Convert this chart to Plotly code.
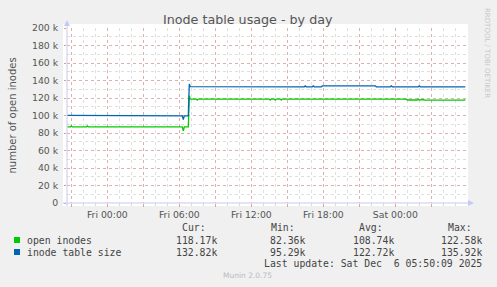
import plotly.graph_objects as go

# ---------------- data ----------------
blue_times = [
    "2025-12-04 20:40", "2025-12-05 00:25", "2025-12-05 00:30", "2025-12-05 06:15",
    "2025-12-05 06:20", "2025-12-05 06:25", "2025-12-05 06:45", "2025-12-05 06:50",
    "2025-12-05 06:55", "2025-12-05 16:25", "2025-12-05 16:30", "2025-12-05 16:35",
    "2025-12-05 17:05", "2025-12-05 17:10", "2025-12-05 17:15", "2025-12-05 17:50",
    "2025-12-05 17:55", "2025-12-05 22:20", "2025-12-05 22:25", "2025-12-05 23:35",
    "2025-12-05 23:40", "2025-12-05 23:45", "2025-12-06 01:55", "2025-12-06 02:00",
    "2025-12-06 02:05", "2025-12-06 05:50",
]
blue_values = [
    100200, 100200, 99500, 99500,
    95290, 99500, 99500, 135920,
    133000, 132800, 133900, 132800,
    132800, 133900, 132800, 132800,
    133900, 133900, 132800, 132800,
    133900, 132800, 132800, 133900,
    132800, 132820,
]

green_times = [
    "2025-12-04 20:40", "2025-12-04 20:55", "2025-12-04 21:00", "2025-12-04 21:05",
    "2025-12-04 22:15", "2025-12-04 22:20", "2025-12-04 22:25", "2025-12-05 06:15",
    "2025-12-05 06:20", "2025-12-05 06:25", "2025-12-05 06:45", "2025-12-05 06:50",
    "2025-12-05 06:55", "2025-12-05 07:25", "2025-12-05 07:30", "2025-12-05 07:35",
    "2025-12-05 13:30", "2025-12-05 13:35", "2025-12-05 13:40", "2025-12-05 13:55",
    "2025-12-05 14:00", "2025-12-05 14:05", "2025-12-05 14:25", "2025-12-05 14:30",
    "2025-12-05 14:35", "2025-12-06 00:55", "2025-12-06 01:00", "2025-12-06 01:50",
    "2025-12-06 01:55", "2025-12-06 02:00", "2025-12-06 02:20", "2025-12-06 02:25",
    "2025-12-06 05:45", "2025-12-06 05:50",
]
green_values = [
    86900, 86900, 88000, 86900,
    86900, 88000, 86900, 86900,
    82360, 86900, 86900, 122580,
    118700, 118700, 117600, 118700,
    118700, 117600, 118700, 118700,
    117600, 118700, 118700, 117600,
    118700, 118700, 117700, 117700,
    118700, 117700, 118100, 117500,
    117500, 118170,
]

series_names = ["open inodes", "inode table size"]
series_colors = ["#00CC00", "#0066B3"]
stat_cur = ["118.17k", "132.82k"]
stat_min = ["82.36k", "95.29k"]
stat_avg = ["108.74k", "122.72k"]
stat_max = ["122.58k", "135.92k"]

x_tickvals = [
    "2025-12-04 21:00", "2025-12-05 00:00", "2025-12-05 03:00", "2025-12-05 06:00",
    "2025-12-05 09:00", "2025-12-05 12:00", "2025-12-05 15:00", "2025-12-05 18:00",
    "2025-12-05 21:00", "2025-12-06 00:00", "2025-12-06 03:00",
]
x_ticktext = ["", "Fri 00:00", "", "Fri 06:00", "", "Fri 12:00", "", "Fri 18:00",
              "", "Sat 00:00", ""]
y_tickvals = [0, 20000, 40000, 60000, 80000, 100000, 120000, 140000, 160000, 180000, 200000]
y_ticktext = ["0", "20 k", "40 k", "60 k", "80 k", "100 k", "120 k", "140 k",
              "160 k", "180 k", "200 k"]

# ---------------- layout geometry ----------------
W, H = 497, 287
L, R, T, B = 67, 467, 28, 203


def px(x):
    return (x - L) / (R - L)


def py(y):
    return (B - y) / (B - T)


fig = go.Figure()
fig.add_trace(go.Scatter(x=green_times, y=green_values, mode="lines",
                         line=dict(color=series_colors[0], width=1.3),
                         name=series_names[0], hoverinfo="skip"))
fig.add_trace(go.Scatter(x=blue_times, y=blue_values, mode="lines",
                         line=dict(color=series_colors[1], width=1.3),
                         name=series_names[1], hoverinfo="skip"))

minor_grid = "rgba(150,150,150,0.3)"
major_grid = "rgba(220,110,110,0.42)"
tick_font = dict(family="DejaVu Sans", size=9.3, color="#555555")

fig.update_xaxes(
    type="date",
    range=["2025-12-04 20:38:30", "2025-12-06 05:58:30"],
    tickmode="array", tickvals=x_tickvals, ticktext=x_ticktext,
    showgrid=True, gridcolor=major_grid, griddash="dot", gridwidth=1,
    ticks="outside", ticklen=3, tickcolor="#E0A0A0",
    tickfont=tick_font, showline=False, zeroline=False,
    minor=dict(dtick=3600000, tick0="2025-12-04 00:00", showgrid=True,
               gridcolor=minor_grid, griddash="dot", gridwidth=1,
               ticks="outside", ticklen=2, tickcolor="#D8D8D8"),
    fixedrange=True,
)
fig.update_yaxes(
    range=[0, 200000],
    tickmode="array", tickvals=y_tickvals, ticktext=y_ticktext,
    showgrid=True, gridcolor=major_grid, griddash="dot", gridwidth=1,
    ticks="outside", ticklen=2, tickcolor="#E0A0A0",
    tickfont=tick_font, ticklabelstandoff=4, showline=False, zeroline=False,
    minor=dict(dtick=10000, showgrid=True, gridcolor=minor_grid,
               griddash="dot", gridwidth=1),
    fixedrange=True,
)

axis_col = "#C4CAF4"
shapes = [
    # white canvas slightly larger than plot area
    dict(type="rect", xref="paper", yref="paper", x0=px(63), x1=px(468),
         y0=py(206), y1=py(24), fillcolor="white", line=dict(width=0), layer="below"),
    # y axis line and arrow
    dict(type="line", xref="paper", yref="paper", x0=px(67), x1=px(67),
         y0=py(206), y1=py(24), line=dict(color=axis_col, width=1), layer="above"),
    dict(type="path", xref="paper", yref="paper",
         path=f"M {px(64)} {py(26)} L {px(70)} {py(26)} L {px(67)} {py(20)} Z",
         fillcolor=axis_col, line=dict(width=0), layer="above"),
    # x axis line and arrow
    dict(type="line", xref="paper", yref="paper", x0=px(63), x1=px(469),
         y0=py(203), y1=py(203), line=dict(color=axis_col, width=1), layer="above"),
    dict(type="path", xref="paper", yref="paper",
         path=f"M {px(468)} {py(200)} L {px(468)} {py(206)} L {px(474)} {py(203)} Z",
         fillcolor=axis_col, line=dict(width=0), layer="above"),
]
# legend squares
for i, col in enumerate(series_colors):
    yc = 240 + 12 * i
    shapes.append(dict(type="rect", xref="paper", yref="paper",
                       x0=px(14), x1=px(20), y0=py(yc + 3), y1=py(yc - 3),
                       fillcolor=col, line=dict(width=0)))

mono = dict(family="DejaVu Sans Mono", size=9.8, color="#444444")
ann = []


def add_text(text, x, y, font, xanchor="left", yanchor="middle", angle=0):
    ann.append(dict(text=text, x=px(x), y=py(y), xref="paper", yref="paper",
                    showarrow=False, xanchor=xanchor, yanchor=yanchor,
                    font=font, textangle=angle, borderpad=0))


add_text("Inode table usage - by day", 248, 19,
         dict(family="DejaVu Sans", size=12.7, color="#555555"), xanchor="center")
add_text("number of open inodes", 12, 115.5,
         dict(family="DejaVu Sans", size=10, color="#555555"), xanchor="center", angle=-90)
add_text("RRDTOOL / TOBI OETIKER", 487, 53,
         dict(family="DejaVu Sans", size=7, color="#C8C8C8"), xanchor="center", angle=90)

add_text("Cur:", 181, 227.5, mono)
add_text("Min:", 270, 227.5, mono)
add_text("Avg:", 358, 227.5, mono)
add_text("Max:", 446.7, 227.5, mono)
for i in range(2):
    yc = 240 + 12 * i
    add_text(series_names[i], 26, yc, mono)
    add_text(stat_cur[i], 217.5, yc, mono, xanchor="right")
    add_text(stat_min[i], 306, yc, mono, xanchor="right")
    add_text(stat_avg[i], 394.5, yc, mono, xanchor="right")
    add_text(stat_max[i], 483, yc, mono, xanchor="right")
add_text("Last update: Sat Dec  6 05:50:09 2025", 483, 263.5, mono, xanchor="right")
add_text("Munin 2.0.75", 247.5, 275.5,
         dict(family="DejaVu Sans", size=7.5, color="#BBBBBB"), xanchor="center")

fig.update_layout(
    width=W, height=H,
    margin=dict(l=L, r=W - R, t=T, b=H - B, pad=0),
    paper_bgcolor="#F0F0F0", plot_bgcolor="white",
    showlegend=False,
    shapes=shapes, annotations=ann,
)

fig.write_html("out.html", config={"displayModeBar": False})
